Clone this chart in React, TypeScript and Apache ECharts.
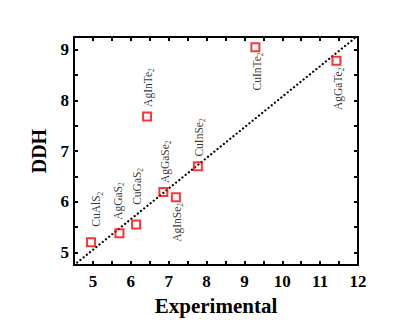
import React, { useEffect, useRef } from "react";
import * as echarts from "echarts";

const compounds = ["CuAlS", "AgGaS", "CuGaS", "AgInTe", "AgGaSe", "AgInSe", "CuInSe", "CuInTe", "AgGaTe"];
const experimental = [4.95, 5.7, 6.14, 6.43, 6.86, 7.19, 7.77, 9.29, 11.43];
const ddh = [5.2, 5.38, 5.55, 7.68, 6.19, 6.09, 6.7, 9.05, 8.78];
const fitLine = [[4.5, 4.75], [12, 9.28]];
const xTicks = [5, 5.5, 6, 6.5, 7, 7.5, 8, 8.5, 9, 9.5, 10, 10.5, 11, 11.5, 12];
const xLabels = [5, 6, 7, 8, 9, 10, 11, 12];
const yTicks = [5, 5.5, 6, 6.5, 7, 7.5, 8, 8.5, 9];
const yLabels = [5, 6, 7, 8, 9];

// label placement: [offset along text, offset across text], align
const labelLayout: [number[], string][] = [
  [[15.5, 5.2], "left"],
  [[13.3, -1.8], "left"],
  [[19.7, 0.5], "left"],
  [[9.7, 0.5], "left"],
  [[9, 1.2], "left"],
  [[-5.7, 0.8], "right"],
  [[9.7, 0.8], "left"],
  [[-5.3, 1.5], "right"],
  [[-6.7, 1.5], "right"],
];

const serif = "'Liberation Serif', 'Times New Roman', serif";

export default function App() {
  const ref = useRef<HTMLDivElement>(null);
  useEffect(() => {
    if (!ref.current) return;
    const chart = echarts.init(ref.current, null, { renderer: "svg" });
    const axisCommon = {
      type: "value",
      axisLine: { show: true, onZero: false, lineStyle: { color: "#000", width: 2 } },
      splitLine: { show: false },
    };
    const xBase = { ...axisCommon, min: 4.5, max: 12 };
    const yBase = { ...axisCommon, min: 4.75, max: 9.25 };
    const tick = (vals: number[]) => ({
      show: true,
      inside: true,
      length: 4,
      customValues: vals,
      lineStyle: { color: "#000", width: 2 },
    });
    chart.setOption({
      animation: false,
      grid: { left: 74, right: 57, top: 37, bottom: 53 },
      xAxis: [
        {
          ...xBase,
          position: "bottom",
          axisTick: tick(xTicks),
          axisLabel: {
            customValues: xLabels,
            fontFamily: serif,
            fontWeight: "bold",
            fontSize: 17,
            color: "#000",
            margin: 8,
          },
          name: "Experimental",
          nameLocation: "middle",
          nameGap: 29,
          nameTextStyle: { fontFamily: serif, fontWeight: "bold", fontSize: 21, color: "#000" },
        },
        {
          ...xBase,
          position: "top",
          axisTick: tick(xTicks),
          axisLabel: { show: false },
        },
      ],
      yAxis: [
        {
          ...yBase,
          position: "left",
          axisTick: tick(yTicks),
          axisLabel: {
            customValues: yLabels,
            fontFamily: serif,
            fontWeight: "bold",
            fontSize: 17,
            color: "#000",
            margin: 5,
          },
          name: "DDH",
          nameLocation: "middle",
          nameGap: 25,
          nameTextStyle: { fontFamily: serif, fontWeight: "bold", fontSize: 20, color: "#000" },
        },
        {
          ...yBase,
          position: "right",
          axisTick: tick(yTicks),
          axisLabel: { show: false },
        },
      ],
      series: [
        {
          type: "line",
          data: fitLine,
          showSymbol: false,
          symbol: "none",
          lineStyle: { color: "#000", width: 2.2, type: [0.1, 4], cap: "round" },
          z: 1,
        },
        {
          type: "scatter",
          symbol: "rect",
          symbolSize: 8,
          itemStyle: { color: "rgba(255,255,255,0)", borderColor: "#ff0000", borderWidth: 2 },
          z: 3,
          data: compounds.map((c, i) => ({
            value: [experimental[i], ddh[i]],
            name: c,
            label: {
              show: true,
              position: "inside",
              rotate: 90,
              align: labelLayout[i][1],
              verticalAlign: "middle",
              offset: labelLayout[i][0],
              formatter: `{a|${c}}{b|2}`,
              rich: {
                a: { fontFamily: serif, fontSize: 11.5, color: "#000", lineHeight: 11, verticalAlign: "middle" },
                b: { fontFamily: serif, fontSize: 7.5, color: "#000", lineHeight: 16, verticalAlign: "bottom" },
              },
            },
          })),
        },
      ],
    });
    return () => chart.dispose();
  }, []);
  return (
    <div
      ref={ref}
      style={{ position: "fixed", left: 0, top: 0, width: 415, height: 321, background: "#fff" }}
    />
  );
}
